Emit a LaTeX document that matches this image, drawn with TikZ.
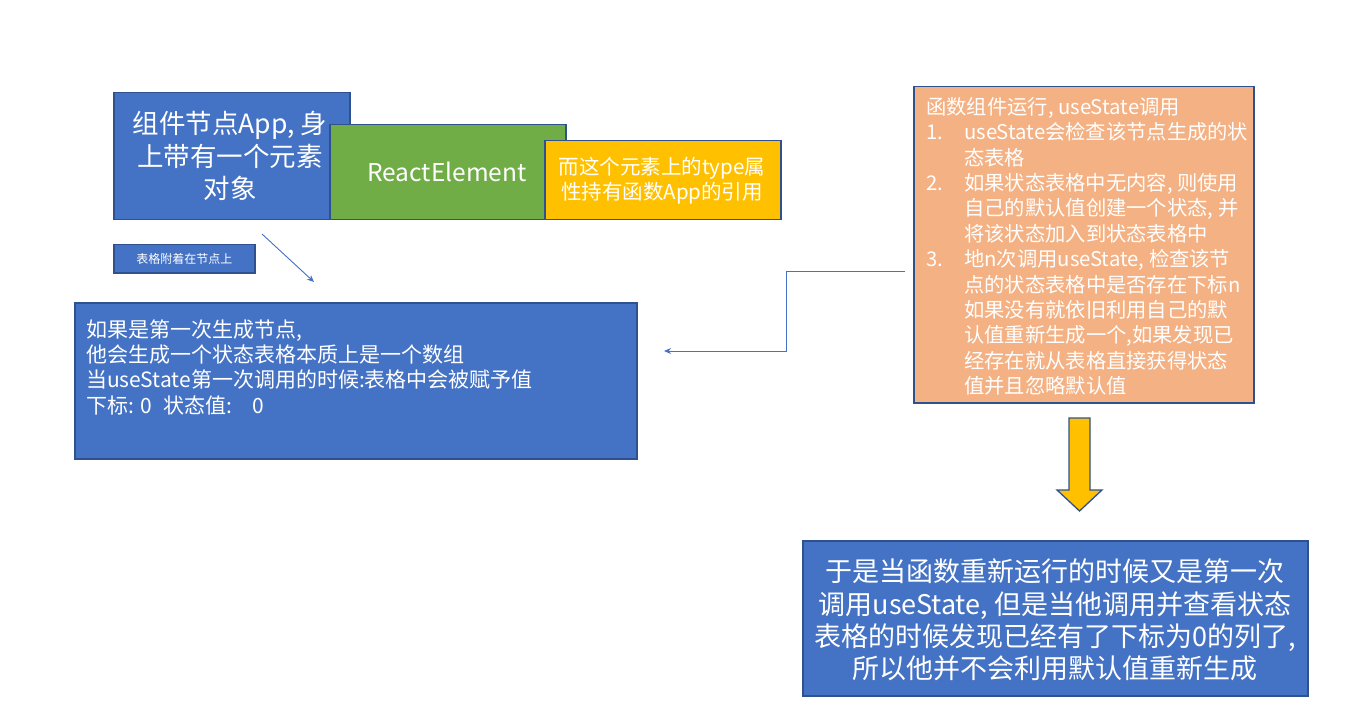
\documentclass[tikz,border=0pt]{standalone}
\usepackage{fontspec}
\setmainfont{Noto Sans CJK SC}
\usetikzlibrary{arrows.meta}
\definecolor{pblue}{HTML}{4472C4}
\definecolor{pborder}{HTML}{2F528F}
\definecolor{pgreen}{HTML}{70AD47}
\definecolor{pyellow}{HTML}{FFC000}
\definecolor{porange}{HTML}{F4B183}
\begin{document}
\begin{tikzpicture}[x=1pt,y=-1pt,
  box/.style={draw=pborder,line width=1.5pt,anchor=north west,inner sep=0pt},
  txt/.style={text=white,inner sep=0pt},
  conn/.style={draw=pblue,line width=0.9pt},
  tip/.style={-{Stealth[length=7pt,width=6pt]}}]
\useasboundingbox[fill=white] (0,0) rectangle (1359,719);

% top row of boxes
\node[box,fill=pblue,minimum width=236pt,minimum height=127pt] (app) at (113,92) {};
\node[txt,align=center,font=\fontsize{26.5}{32.5}\selectfont] (apptext) at (230,156) {组件节点App, 身\\上带有一个元素\\对象};
\node[box,fill=pgreen,minimum width=236pt,minimum height=95pt] (elem) at (329,124) {};
\node[txt,font=\fontsize{24.5}{30}\selectfont] (elemtext) at (447,172) {ReactElement};
\node[box,fill=pyellow,minimum width=236pt,minimum height=79pt] (type) at (544,140) {};
\node[txt,align=center,font=\fontsize{20.5}{25}\selectfont] (typetext) at (662,181) {而这个元素上的type属\\性持有函数App的引用};

% small label
\node[box,fill=pblue,minimum width=141pt,minimum height=28pt] (lbl) at (113,244) {};
\node[txt,font=\fontsize{12}{14}\selectfont] (lbltext) at (lbl.center) {表格附着在节点上};

% diagonal arrow
\coordinate (d1) at (262,234);
\coordinate (d2) at (314,282);
\draw[conn,tip] (d1) -- (d2);

% big blue box
\node[box,fill=pblue,minimum width=562pt,minimum height=156pt] (table) at (74,302) {};
\node[txt,anchor=north west,align=left,font=\fontsize{21}{25.2}\selectfont] (tabletext) at (86,319.5)
 {如果是第一次生成节点,\\他会生成一个状态表格本质上是一个数组\\当useState第一次调用的时候:表格中会被赋予值\\下标: 0\hspace{12pt}状态值:\hspace{20pt}0};

% orange box
\node[box,fill=porange,minimum width=340pt,minimum height=316pt] (run) at (913,86) {};
\node[txt,anchor=north west,align=left,font=\fontsize{20.3}{25.4}\selectfont] (runtext) at (926,97)
 {函数组件运行, useState调用\\
  \makebox[38pt][l]{1.}useState会检查该节点生成的状\\
  \makebox[38pt][l]{}态表格\\
  \makebox[38pt][l]{2.}如果状态表格中无内容, 则使用\\
  \makebox[38pt][l]{}自己的默认值创建一个状态, 并\\
  \makebox[38pt][l]{}将该状态加入到状态表格中\\
  \makebox[38pt][l]{3.}地n次调用useState, 检查该节\\
  \makebox[38pt][l]{}点的状态表格中是否存在下标n\\
  \makebox[38pt][l]{}如果没有就依旧利用自己的默\\
  \makebox[38pt][l]{}认值重新生成一个,如果发现已\\
  \makebox[38pt][l]{}经存在就从表格直接获得状态\\
  \makebox[38pt][l]{}值并且忽略默认值};

% elbow connector from orange box to big blue box
\coordinate (e1) at (786,271);
\coordinate (e2) at (786,351);
\coordinate (e3) at (664,351);
\draw[conn,tip] ([xshift=-8pt]run.west |- e1) -- (e1) -- (e2) -- (e3);

% yellow block arrow
\filldraw[fill=pyellow,draw=pborder,line width=1.3pt,line join=miter]
  (1069,418) -- (1090,418) -- (1090,490) -- (1102,490) -- (1079.5,511)
  -- (1057,490) -- (1069,490) -- cycle;

% bottom box
\node[box,fill=pblue,minimum width=505pt,minimum height=155pt] (result) at (802,540) {};
\node[txt,align=center,font=\fontsize{27}{32.4}\selectfont] (resulttext) at (1055,620)
 {于是当函数重新运行的时候又是第一次\\调用useState, 但是当他调用并查看状态\\表格的时候发现已经有了下标为0的列了,\\所以他并不会利用默认值重新生成};
\end{tikzpicture}
\end{document}
